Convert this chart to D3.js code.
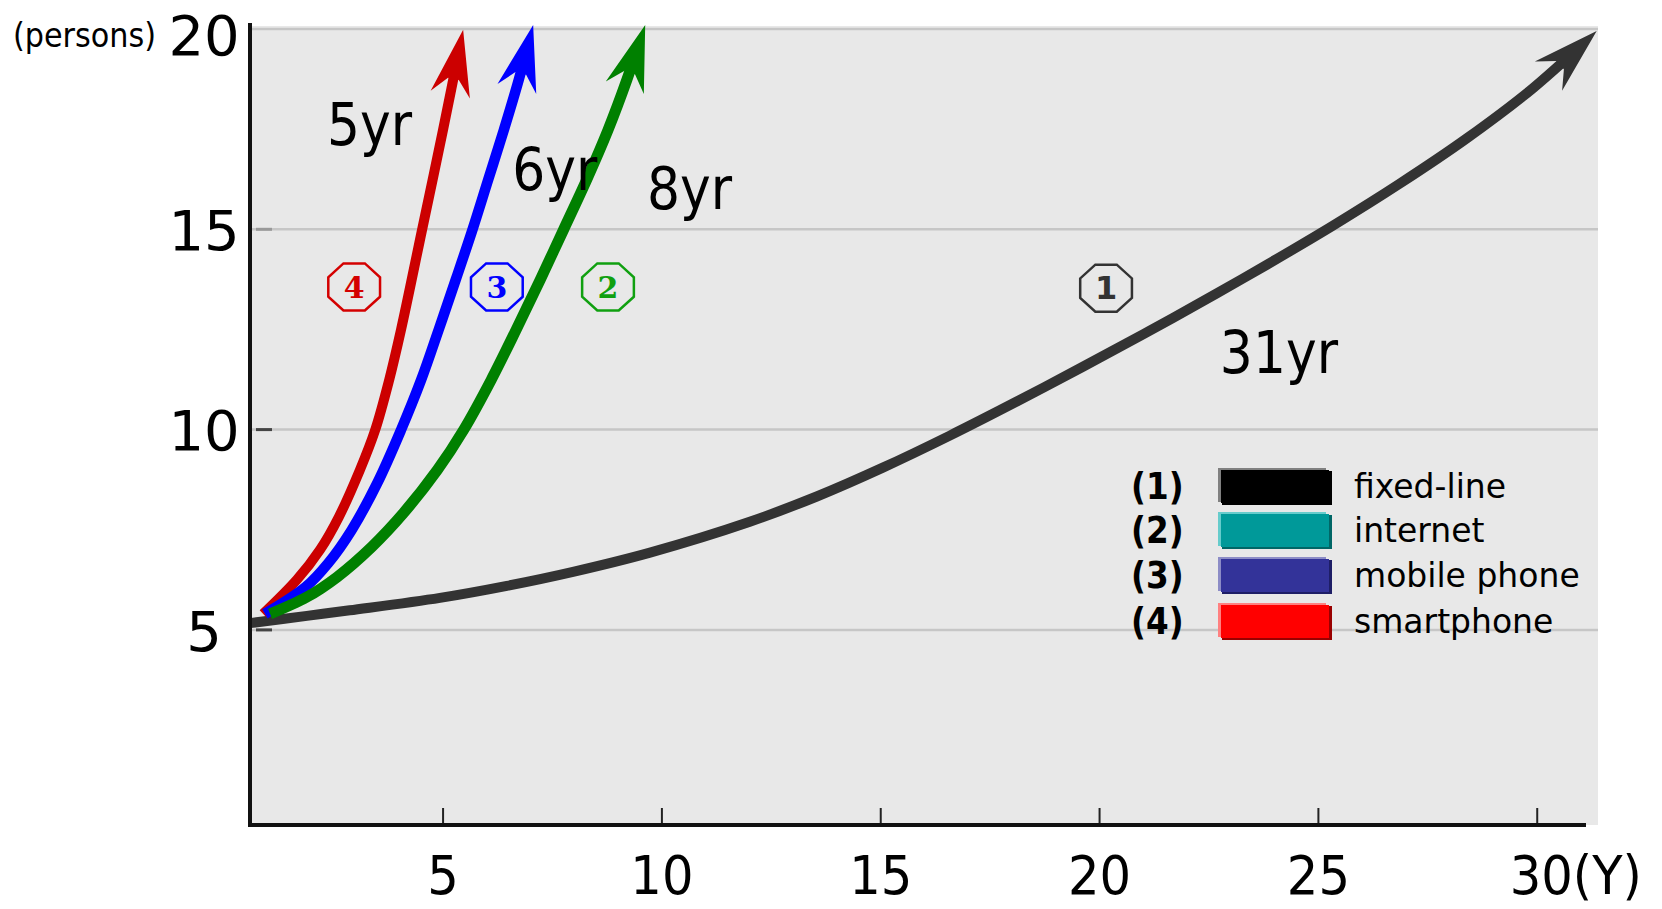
<!DOCTYPE html>
<html><head><meta charset="utf-8">
<script src="https://cdn.jsdelivr.net/npm/d3@7"></script>
<style>body{margin:0;background:#fff}svg{display:block}</style>
</head><body><svg id="c" width="1662" height="909"></svg>
<script>
// ---------- data ----------
const xTickValues = [5, 10, 15, 20, 25, 30];
const xTickLabels = ["5", "10", "15", "20", "25", "30(Y)"];
const yTickValues = [5, 10, 15, 20];
const yTickLabels = ["5", "10", "15", "20"];
const yUnitLabel = "(persons)";
const seriesKeys = ["(1)", "(2)", "(3)", "(4)"];
const seriesNames = ["fixed-line", "internet", "mobile phone", "smartphone"];
const spanLabels = ["31yr", "8yr", "6yr", "5yr"];
const circledNumbers = ["1", "2", "3", "4"];

const fixedLineYears = [0.6, 1.9, 2.88, 4.94, 6.47, 7.98, 9.74, 12.02, 13.55, 15.06, 16.59, 18.12, 19.63, 21.16, 22.69, 23.84, 25.34, 26.87, 28.4, 29.91, 31.37];
const fixedLineUsers = [5.17, 5.35, 5.49, 5.8, 6.1, 6.45, 6.93, 7.7, 8.33, 9.05, 9.85, 10.7, 11.57, 12.47, 13.4, 14.12, 15.09, 16.14, 17.27, 18.52, 19.95];

const internetYears = [1.06, 1.9, 2.59, 3.38, 4.11, 4.88, 5.48, 6.11, 6.68, 7.23, 7.76, 8.29, 8.78, 9.21, 9.63];
const internetUsers = [5.4, 5.82, 6.32, 7.07, 7.92, 8.99, 9.99, 11.24, 12.49, 13.74, 14.98, 16.23, 17.48, 18.73, 20.1];

const mobileYears = [0.94, 1.87, 2.39, 2.92, 3.51, 4.05, 4.51, 4.91, 5.3, 5.68, 6.04, 6.4, 6.74, 7.07];
const mobileUsers = [5.4, 6.07, 6.67, 7.49, 8.67, 9.99, 11.24, 12.49, 13.74, 14.98, 16.23, 17.48, 18.73, 20.1];

const smartphoneYears = [0.9, 1.67, 2.2, 2.63, 3.11, 3.46, 3.78, 4.05, 4.53, 5.01, 5.47];
const smartphoneUsers = [5.4, 6.25, 7.0, 7.82, 8.99, 9.99, 11.24, 12.49, 14.98, 17.48, 19.98];

// ---------- layout ----------
const svg = d3.select("#c");
const W = 1662, H = 909;
const plotLeft = 250, plotRight = 1598, plotTop = 26, plotBottom = 825;

const x = d3.scaleLinear().domain([0.6, 31.4]).range([250, 1598]);
const y = d3.scaleLinear().domain([0.13, 20]).range([825, 29]);

svg.append("rect").attr("width", W).attr("height", H).attr("fill", "#fff");
svg.append("rect").attr("x", plotLeft).attr("y", plotTop)
  .attr("width", plotRight - plotLeft).attr("height", plotBottom - plotTop)
  .attr("fill", "#e8e8e8");

// gridlines
svg.append("g").selectAll("line").data(yTickValues).join("line")
  .attr("x1", plotLeft + 2).attr("x2", plotRight)
  .attr("y1", d => y(d)).attr("y2", d => y(d))
  .attr("stroke", "#c6c6c6").attr("stroke-width", 2.5);
// small inner y tick dashes
svg.append("g").selectAll("line").data(yTickValues.filter(d => d < 20)).join("line")
  .attr("x1", 256).attr("x2", 272)
  .attr("y1", d => y(d)).attr("y2", d => y(d))
  .attr("stroke", d => d === 15 ? "#999" : "#444").attr("stroke-width", 3);

// helper text with horizontal scaling
function txt(g, px, py, s, o) {
  const t = g.append("g").attr("transform", `translate(${px},${py}) scale(${o.sx || 1},1)`);
  t.append("text").attr("text-anchor", o.anchor || "start")
    .attr("font-family", o.family || "DejaVu Sans").attr("font-size", o.size)
    .attr("font-weight", o.weight || "normal").attr("fill", o.fill || "#000").text(s);
  return t;
}

// ---------- series ----------
const series = [
  { name: seriesNames[0], xs: fixedLineYears, ys: fixedLineUsers, color: "#333333", width: 10 },
  { name: seriesNames[3], xs: smartphoneYears, ys: smartphoneUsers, color: "#cc0000", width: 10 },
  { name: seriesNames[2], xs: mobileYears, ys: mobileUsers, color: "#0000ff", width: 10.5 },
  { name: seriesNames[1], xs: internetYears, ys: internetUsers, color: "#008000", width: 11 }
];

const defs = svg.append("defs");
const lineGen = d3.line().x(d => x(d[0])).y(d => y(d[1])).curve(d3.curveCatmullRom.alpha(0.5));

series.forEach((s, i) => {
  const id = "arrow" + i;
  defs.append("marker").attr("id", id)
    .attr("viewBox", "-70 -26 76 52").attr("markerWidth", 76).attr("markerHeight", 52)
    .attr("refX", 0).attr("refY", 0).attr("orient", "auto").attr("markerUnits", "userSpaceOnUse")
    .append("path").attr("d", "M0,0 L-66,-20 L-50,-5.5 L-50,5.5 L-66,20 Z").attr("fill", s.color);
  const pts = s.xs.map((v, k) => [v, s.ys[k]]);
  const p = svg.append("path").datum(pts).attr("d", lineGen)
    .attr("fill", "none").attr("stroke", s.color).attr("stroke-width", s.width)
    .attr("stroke-linecap", "butt").attr("stroke-linejoin", "round")
    .attr("marker-end", `url(#${id})`);
  const len = p.node().getTotalLength();
  p.attr("stroke-dasharray", `${len - 46} ${len + 10}`);
});

// ---------- axes ----------
const yAxis = d3.axisLeft(y).tickValues(yTickValues).tickFormat((d, i) => yTickLabels[i]).tickSize(0);
const gy = svg.append("g").attr("transform", `translate(${plotLeft},0)`).call(yAxis);
gy.select(".domain").remove();
gy.selectAll("text").attr("x", -46).attr("dy", "0.36em").attr("text-anchor", "middle")
  .attr("font-family", "DejaVu Sans").attr("font-size", 56).attr("fill", "#000")
  .attr("y", d => d === 20 ? 5 : 0);

const xAxis = d3.axisBottom(x).tickValues(xTickValues).tickFormat((d, i) => xTickLabels[i])
  .tickSizeInner(-17).tickSizeOuter(0).tickPadding(0);
const gx = svg.append("g").attr("transform", `translate(0,${plotBottom})`).call(xAxis);
gx.select(".domain").remove();
gx.selectAll(".tick line").attr("stroke", "#222").attr("stroke-width", 2);
gx.selectAll("text").attr("y", 69).attr("dy", 0)
  .attr("font-family", "DejaVu Sans").attr("font-size", 54).attr("fill", "#000")
  .attr("transform", "scale(0.92,1)");
gx.selectAll("text").filter((d, i) => i === xTickValues.length - 1)
  .attr("text-anchor", "start").attr("x", -30);

svg.append("line").attr("x1", plotLeft).attr("x2", plotLeft).attr("y1", 23).attr("y2", plotBottom + 2)
  .attr("stroke", "#111").attr("stroke-width", 4);
svg.append("line").attr("x1", plotLeft - 2).attr("x2", 1586).attr("y1", plotBottom).attr("y2", plotBottom)
  .attr("stroke", "#111").attr("stroke-width", 4);

txt(svg, 13, 47, yUnitLabel, { size: 34, sx: 0.89 });

// ---------- annotations ----------
const spanPos = [[22.76, 11.41], [9.67, 15.51], [6.59, 15.98], [2.36, 17.1]];
spanLabels.forEach((s, i) => {
  txt(svg, x(spanPos[i][0]), y(spanPos[i][1]), s, { size: 59, sx: 0.88 });
});

const circlePos = [[20.16, 13.53], [8.78, 13.56], [6.24, 13.56], [2.98, 13.56]];
const circleColors = ["#333333", "#10a010", "#0000ff", "#d40000"];
circledNumbers.forEach((n, i) => {
  const cx = x(circlePos[i][0]), cy = y(circlePos[i][1]);
  const rx = 28, ry = 25.5;
  const pts = d3.range(8).map(k => {
    const a = (22.5 + 45 * k) * Math.PI / 180;
    return [cx + rx * Math.cos(a), cy + ry * Math.sin(a)];
  });
  svg.append("path").attr("d", "M" + pts.join("L") + "Z")
    .attr("fill", "none").attr("stroke", circleColors[i]).attr("stroke-width", 2.5);
  svg.append("text").attr("x", cx).attr("y", cy + 11).attr("text-anchor", "middle")
    .attr("font-family", i === 0 ? "DejaVu Sans" : "DejaVu Serif")
    .attr("font-weight", "bold").attr("font-size", i === 0 ? 32 : 30)
    .attr("fill", circleColors[i]).text(n);
});

// ---------- legend ----------
const swatch = [
  { fill: "#000000", light: "#808080", dark: "#000000" },
  { fill: "#009999", light: "#66cccc", dark: "#006666" },
  { fill: "#333399", light: "#8c8cc6", dark: "#1e1e66" },
  { fill: "#ff0000", light: "#ff8080", dark: "#990000" }
];
const rowY = [486, 530, 575, 621];
seriesNames.forEach((name, i) => {
  const cy = rowY[i];
  txt(svg, 1131, cy + 13, seriesKeys[i], { size: 38, sx: 0.86, weight: "bold" });
  svg.append("rect").attr("x", 1222).attr("y", cy - 15).attr("width", 110).attr("height", 34).attr("fill", swatch[i].dark);
  svg.append("rect").attr("x", 1218).attr("y", cy - 18).attr("width", 108).attr("height", 34).attr("fill", swatch[i].light);
  svg.append("rect").attr("x", 1221).attr("y", cy - 16).attr("width", 108).attr("height", 33).attr("fill", swatch[i].fill);
  txt(svg, 1354, cy + 12, name, { size: 33 });
});
</script></body></html>
